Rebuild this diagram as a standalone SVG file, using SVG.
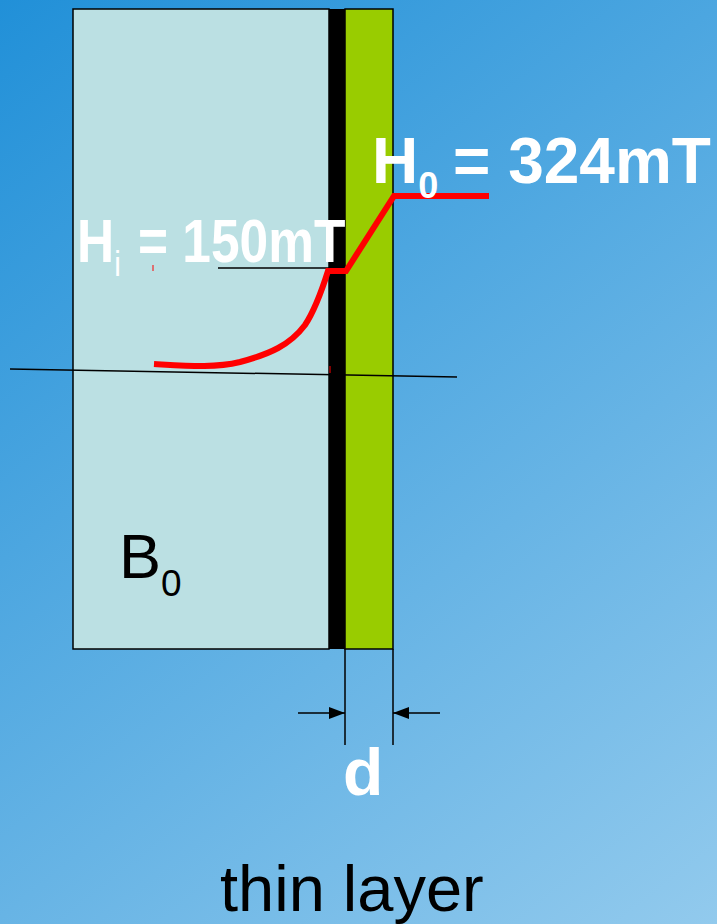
<svg xmlns="http://www.w3.org/2000/svg" width="717" height="924" viewBox="0 0 717 924">
<defs>
<linearGradient id="bg" x1="0" y1="0" x2="717" y2="924" gradientUnits="userSpaceOnUse">
<stop offset="0" stop-color="#2190d8"/>
<stop offset="1" stop-color="#92caed"/>
</linearGradient>
<marker id="ah" viewBox="0 0 16 12" refX="16" refY="6" markerWidth="16" markerHeight="12" markerUnits="userSpaceOnUse" orient="auto">
<path d="M0,0 L16,6 L0,12 Z" fill="#000"/>
</marker>
<style>
.wb{font-family:"Liberation Sans",Arial,sans-serif;font-weight:bold;fill:#fff}
.bk{font-family:"Liberation Sans",Arial,sans-serif;fill:#000}
.thin{stroke:#000;stroke-width:1.5;fill:none}
</style>
</defs>
<rect width="717" height="924" fill="url(#bg)"/>
<g id="bulk">
<rect x="73" y="9" width="256" height="640" fill="#bbe0e3" stroke="#000" stroke-width="1.5"/>
</g>
<g id="oxide">
<rect x="329" y="9" width="16" height="640" fill="#000"/>
</g>
<g id="layer">
<rect x="345" y="9" width="48" height="640" fill="#99cc00" stroke="#000" stroke-width="1.5"/>
</g>
<g id="connectors">
<line class="thin" x1="10" y1="369" x2="457" y2="377"/>
<line class="thin" x1="218" y1="268" x2="330" y2="268"/>
<path d="M154,364 C190,366 215,368 240,362 C270,354 290,345 305,325 C315,310 322,290 328,271 L346,271 L394,196 L489,196" fill="none" stroke="#ff0000" stroke-width="6"/>
<line x1="153" y1="265" x2="153" y2="271" stroke="#ff0000" stroke-width="1"/>
<line x1="330" y1="366" x2="330" y2="373" stroke="#ff0000" stroke-width="1"/>
<line class="thin" x1="345" y1="649" x2="345" y2="745"/>
<line class="thin" x1="393" y1="649" x2="393" y2="745"/>
<line class="thin" x1="298" y1="713" x2="345" y2="713" marker-end="url(#ah)"/>
<line class="thin" x1="440" y1="713" x2="393" y2="713" marker-end="url(#ah)"/>
</g>
<g id="labels">
<text class="wb" x="372" y="183" font-size="64">H<tspan font-size="36" dy="15">0</tspan><tspan x="453" dy="-15">= 324mT</tspan></text>
<text class="wb" font-size="62" transform="translate(77,262) scale(0.83,1)">H<tspan font-size="36" font-weight="normal" dy="14">i</tspan><tspan x="73.5" dy="-14">= 150mT</tspan></text>
<text class="bk" x="119" y="578" font-size="63">B<tspan font-size="37" dy="18">0</tspan></text>
<text class="wb" x="343" y="795" font-size="66">d</text>
<text class="bk" x="220" y="911" font-size="65">thin layer</text>
</g>
</svg>
